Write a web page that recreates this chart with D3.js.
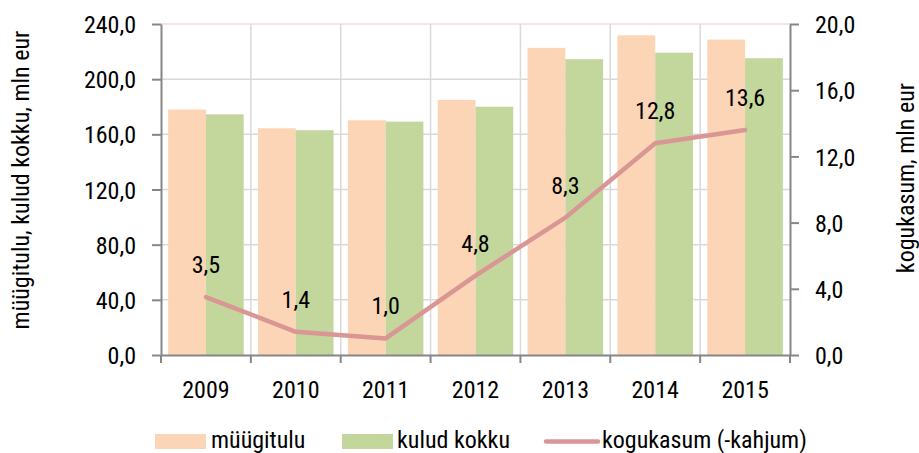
<!DOCTYPE html>
<html><head><meta charset="utf-8">
<script src="https://cdn.jsdelivr.net/npm/d3@7"></script>
<style>
html,body{margin:0;padding:0;background:#fff;}
svg{display:block;font-family:"Roboto Condensed","Liberation Sans Narrow",sans-serif;}
</style></head><body>
<svg id="c" width="919" height="453"></svg>
<script>
const years = ["2009","2010","2011","2012","2013","2014","2015"];
const myygitulu = [178, 164.4, 170.2, 185, 222.7, 231.8, 228.7];
const kulud = [174.5, 163, 169.2, 180, 214.5, 219.2, 215.2];
const kogukasum = [3.5, 1.4, 1.0, 4.8, 8.3, 12.8, 13.6];
const leftTicks = [0, 40, 80, 120, 160, 200, 240];
const rightTicks = [0, 4, 8, 12, 16, 20];
const seriesNames = ["müügitulu", "kulud kokku", "kogukasum (-kahjum)"];
const colors = ["#fbd5b5", "#c3d69b", "#d99694"];

const FONT = '"Roboto Condensed","Liberation Sans Narrow",sans-serif';
const FS = 24;
const svg = d3.select("#c");
const L = 161, R = 790, T = 24, B = 355;
const fmt = d => d.toFixed(1).replace(".", ",");

const x = d3.scaleBand().domain(years).range([L, R]).paddingInner(0).paddingOuter(0);
const xs = d3.scaleBand().domain([0,1]).range([0, x.bandwidth()]).paddingInner(0).paddingOuter(0.19);
const yL = d3.scaleLinear().domain([0, 240]).range([B, T]);
const yR = d3.scaleLinear().domain([0, 20]).range([B, T]);

// horizontal gridlines
svg.append("g").selectAll("line").data(leftTicks.filter(d => d > 0)).join("line")
  .attr("x1", L).attr("x2", R).attr("y1", d => yL(d)).attr("y2", d => yL(d))
  .attr("stroke", d => d === 240 ? "#f2e4ef" : "#d9d9d9").attr("stroke-width", d => d === 240 ? 2 : 1.5);
// vertical gridlines
svg.append("g").selectAll("line").data(years.slice(1)).join("line")
  .attr("x1", d => x(d)).attr("x2", d => x(d)).attr("y1", T).attr("y2", B)
  .attr("stroke", "#d9d9d9").attr("stroke-width", 1.5);

// bars
const vals = [myygitulu, kulud];
vals.forEach((arr, si) => {
  svg.append("g").selectAll("rect").data(arr).join("rect")
    .attr("x", (d, i) => x(years[i]) + xs(si))
    .attr("width", xs.bandwidth())
    .attr("y", d => yL(d))
    .attr("height", d => B - yL(d))
    .attr("fill", colors[si]);
});

// axes
const axisColor = "#868686";
const gL = svg.append("g").attr("transform", `translate(${L},0)`)
  .call(d3.axisLeft(yL).tickValues(leftTicks).tickFormat(fmt).tickSize(9).tickSizeOuter(0).tickPadding(16));
const gR = svg.append("g").attr("transform", `translate(${R},0)`)
  .call(d3.axisRight(yR).tickValues(rightTicks).tickFormat(fmt).tickSize(9).tickSizeOuter(0).tickPadding(16));
const gX = svg.append("g").attr("transform", `translate(0,${B})`)
  .call(d3.axisBottom(x).tickSize(0).tickSizeOuter(0).tickPadding(26));
[gL, gR].forEach(g => {
  g.select(".domain").attr("stroke", axisColor).attr("stroke-width", 2);
  g.selectAll(".tick line").attr("stroke", axisColor).attr("stroke-width", 2);
});
gX.select(".domain").attr("stroke", axisColor).attr("stroke-width", 2);
// x ticks at band boundaries
svg.append("g").selectAll("line").data(years.concat(["end"])).join("line")
  .attr("x1", (d, i) => i < years.length ? x(d) : R).attr("x2", (d, i) => i < years.length ? x(d) : R)
  .attr("y1", B).attr("y2", B + 8).attr("stroke", axisColor).attr("stroke-width", 2);
svg.selectAll(".tick text").attr("font-size", FS).attr("fill", "#000").attr("font-family", FONT);
gL.selectAll(".tick text").attr("dy", "0.36em");
gR.selectAll(".tick text").attr("dy", "0.36em");

// line
const cx = d => x(d) + x.bandwidth() / 2;
svg.append("path").datum(kogukasum)
  .attr("d", d3.line().x((d, i) => cx(years[i])).y(d => yR(d)))
  .attr("fill", "none").attr("stroke", colors[2]).attr("stroke-width", 4.5)
  .attr("stroke-linecap", "round").attr("stroke-linejoin", "round");
svg.append("g").selectAll("text").data(kogukasum).join("text")
  .attr("x", (d, i) => cx(years[i])).attr("y", d => yR(d) - 24)
  .attr("text-anchor", "middle").attr("font-size", FS).attr("fill", "#000")
  .text(fmt);

// axis titles
svg.append("text").attr("transform", "translate(29,180) rotate(-90)")
  .attr("text-anchor", "middle").attr("font-size", FS).text("müügitulu, kulud kokku, mln eur");
svg.append("text").attr("transform", "translate(914,178) rotate(-90)")
  .attr("text-anchor", "middle").attr("font-size", FS).text("kogukasum, mln eur");

// legend
const lg = svg.append("g");
lg.append("rect").attr("x", 155).attr("y", 434).attr("width", 51).attr("height", 15).attr("fill", colors[0]);
lg.append("rect").attr("x", 342).attr("y", 434).attr("width", 51).attr("height", 15).attr("fill", colors[1]);
lg.append("line").attr("x1", 546).attr("x2", 598).attr("y1", 441.5).attr("y2", 441.5)
  .attr("stroke", colors[2]).attr("stroke-width", 4.5).attr("stroke-linecap", "round");
const ltx = [211, 397, 602];
seriesNames.forEach((n, i) => {
  lg.append("text").attr("x", ltx[i]).attr("y", 448).attr("font-size", FS).text(n);
});
</script>
</body></html>
